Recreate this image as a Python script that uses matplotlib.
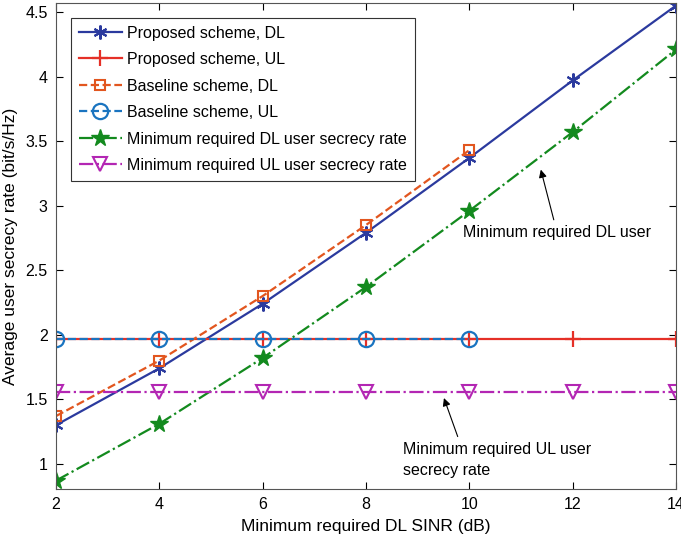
import numpy as np
import matplotlib.pyplot as plt

plt.rcParams['font.family'] = ['Liberation Sans', 'DejaVu Sans']

# данные
sinr = [2, 4, 6, 8, 10, 12, 14]
sinr_base = [2, 4, 6, 8, 10]
prop_dl = [1.30, 1.74, 2.24, 2.79, 3.37, 3.97, 4.55]
prop_ul = [1.97, 1.97, 1.97, 1.97, 1.97, 1.97, 1.97]
base_dl = [1.37, 1.80, 2.30, 2.85, 3.43]
base_ul = [1.97, 1.97, 1.97, 1.97, 1.97]
min_dl = [0.87, 1.31, 1.82, 2.37, 2.96, 3.57, 4.21]
min_ul = [1.56, 1.56, 1.56, 1.56, 1.56, 1.56, 1.56]

fig = plt.figure(figsize=(6.81, 5.44), dpi=100)
ax = fig.add_axes([56 / 681, 55 / 544, 620 / 681, 486 / 544])

lw = 1.6
ax.plot(sinr, prop_dl, '-', color='#2B3A9E', lw=lw, marker=(6, 2, 0), ms=10,
        mew=1.5, label='Proposed scheme, DL')
ax.plot(sinr, prop_ul, '-', color='#E53027', lw=lw, marker='+', ms=12, mew=1.6,
        label='Proposed scheme, UL')
ax.plot(sinr_base, base_dl, '--', color='#E2561F', lw=lw, marker='s', ms=7,
        mfc='none', mew=1.5, label='Baseline scheme, DL')
ax.plot(sinr_base, base_ul, '--', color='#1A74C0', lw=lw, marker='o', ms=11,
        mfc='none', mew=1.6, label='Baseline scheme, UL')
ax.plot(sinr, min_dl, '-.', color='#138A1E', lw=lw, marker='*', ms=13,
        label='Minimum required DL user secrecy rate')
ax.plot(sinr, min_ul, '-.', color='#B326B3', lw=lw, marker='v', ms=10,
        mfc='none', mew=1.5, label='Minimum required UL user secrecy rate')

ax.set_xlim(2, 14)
ax.set_ylim(0.805, 4.57)
ax.set_xticks(sinr)
ax.set_yticks([1, 1.5, 2, 2.5, 3, 3.5, 4, 4.5])
ax.set_yticklabels(['1', '1.5', '2', '2.5', '3', '3.5', '4', '4.5'])
ax.tick_params(direction='in', top=True, right=True, labelsize=11.5, length=5,
               pad=6)
for s in ax.spines.values():
    s.set_color('#555555')

ax.set_xlabel('Minimum required DL SINR (dB)', fontsize=12.5, labelpad=5)
ax.set_ylabel('Average user secrecy rate (bit/s/Hz)', fontsize=12.5, labelpad=5)

ax.annotate('Minimum required DL user', xy=(11.37, 3.30), xytext=(9.88, 2.79),
            fontsize=11.5, va='center', ha='left',
            arrowprops=dict(arrowstyle='-|>', color='black', lw=0.8))
ax.annotate('Minimum required UL user\nsecrecy rate', xy=(9.49, 1.53),
            xytext=(8.72, 1.03), fontsize=11.5, va='center', ha='left',
            linespacing=1.5,
            arrowprops=dict(arrowstyle='-|>', color='black', lw=0.8,
                            relpos=(0.3, 1.0)))

leg = ax.legend(loc='upper left', bbox_to_anchor=(0.024, 0.97), fontsize=11.5,
                handlelength=2.7, handletextpad=0.3, labelspacing=0.72,
                borderpad=0.5, borderaxespad=0, fancybox=False, framealpha=1)
leg.get_frame().set_edgecolor('#333333')
leg.get_frame().set_linewidth(0.8)

fig.savefig('out.png', dpi=100)
